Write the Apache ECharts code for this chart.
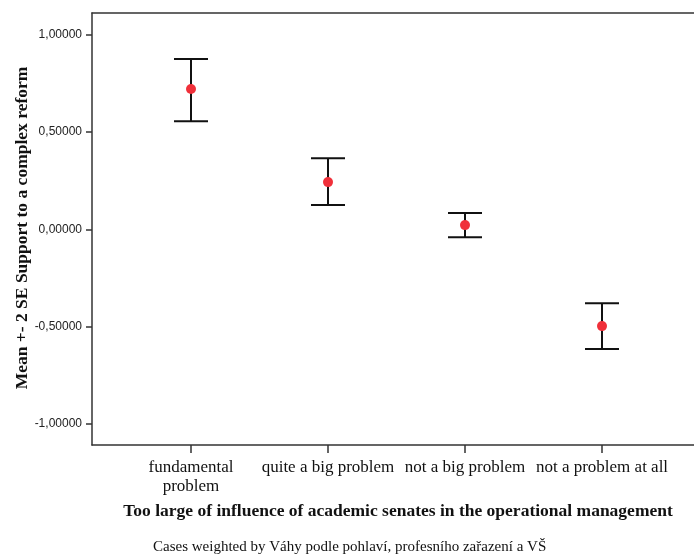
<!DOCTYPE html>
<html>
<head>
<meta charset="utf-8">
<script src="https://cdn.jsdelivr.net/npm/echarts@6/dist/echarts.min.js"></script>
<style>
  html, body { margin: 0; padding: 0; background: #fff; }
  #chart { width: 694px; height: 554px; }
</style>
</head>
<body>
<div id="chart"></div>
<script>
// Response categories on the horizontal axis
const categories = ['fundamental\nproblem', 'quite a big problem', 'not a big problem', 'not a problem at all'];
// Group means and the ±2 SE interval bounds
const means = [0.721, 0.243, 0.022, -0.497];
const upper = [0.876, 0.366, 0.084, -0.379];
const lower = [0.556, 0.125, -0.040, -0.615];
// Value-axis tick positions
const yTicks = [-1, -0.5, 0, 0.5, 1];

const yTitle = 'Mean +- 2 SE Support to a complex reform';
const xTitle = 'Too large of influence of academic senates in the operational management';
const footnote = 'Cases weighted by Váhy podle pohlaví, profesního zařazení a VŠ';

const chart = echarts.init(document.getElementById('chart'), null, { renderer: 'canvas' });

const catIdx = categories.map((_, i) => i);
const barData = catIdx.map(i => [i, lower[i], upper[i]]);
const meanData = catIdx.map(i => [i, means[i]]);

// SPSS-style number format with a decimal comma
function fmt(v) {
  return v.toFixed(5).replace('.', ',');
}

const X_MIN = -0.7226, X_MAX = 3.6715;
const frameLine = { color: '#333', width: 1.5 };

chart.setOption({
  animation: false,
  backgroundColor: '#ffffff',
  grid: { left: 92, top: 13, right: 0, height: 432 },
  xAxis: [
    {
      type: 'value',
      min: X_MIN, max: X_MAX,
      splitLine: { show: false },
      axisLine: { show: true, onZero: false, lineStyle: frameLine },
      axisTick: { show: true, length: 8, customValues: catIdx, lineStyle: frameLine },
      axisLabel: {
        customValues: catIdx,
        formatter: v => categories[Math.round(v)],
        margin: 13,
        color: '#111',
        fontFamily: 'Liberation Serif',
        fontSize: 17,
        lineHeight: 19
      }
    },
    {
      // top edge of the plot frame
      type: 'value',
      position: 'top',
      min: X_MIN, max: X_MAX,
      splitLine: { show: false },
      axisLine: { show: true, onZero: false, lineStyle: frameLine },
      axisTick: { show: false },
      axisLabel: { show: false }
    }
  ],
  yAxis: {
    type: 'value',
    min: -1.108, max: 1.112,
    splitLine: { show: false },
    axisLine: { show: true, onZero: false, lineStyle: frameLine },
    axisTick: { show: true, length: 6, customValues: yTicks, lineStyle: frameLine },
    axisLabel: {
      customValues: yTicks,
      formatter: fmt,
      margin: 10,
      color: '#222',
      fontFamily: 'Liberation Sans',
      fontSize: 12
    }
  },
  series: [
    {
      type: 'custom',
      data: barData,
      z: 2,
      renderItem: function (params, api) {
        const x = api.value(0);
        const lo = api.coord([x, api.value(1)]);
        const hi = api.coord([x, api.value(2)]);
        const half = 17;
        const style = { stroke: '#111', lineWidth: 2 };
        return {
          type: 'group',
          children: [
            { type: 'line', shape: { x1: lo[0], y1: lo[1], x2: hi[0], y2: hi[1] }, style },
            { type: 'line', shape: { x1: hi[0] - half, y1: hi[1], x2: hi[0] + half, y2: hi[1] }, style },
            { type: 'line', shape: { x1: lo[0] - half, y1: lo[1], x2: lo[0] + half, y2: lo[1] }, style }
          ]
        };
      }
    },
    {
      type: 'scatter',
      data: meanData,
      symbol: 'circle',
      symbolSize: 10,
      z: 3,
      itemStyle: { color: '#f0303a', opacity: 1 }
    }
  ],
  graphic: [
    {
      type: 'text',
      x: 22, y: 228,
      rotation: Math.PI / 2,
      style: {
        text: yTitle,
        fontFamily: 'Liberation Serif',
        fontWeight: 'bold',
        fontSize: 17.5,
        fill: '#111',
        align: 'center',
        verticalAlign: 'middle'
      }
    },
    {
      type: 'text',
      x: 398, y: 511,
      style: {
        text: xTitle,
        fontFamily: 'Liberation Serif',
        fontWeight: 'bold',
        fontSize: 17.5,
        fill: '#111',
        align: 'center',
        verticalAlign: 'middle'
      }
    },
    {
      type: 'text',
      x: 153, y: 547,
      style: {
        text: footnote,
        fontFamily: 'Liberation Serif',
        fontSize: 15,
        fill: '#111',
        align: 'left',
        verticalAlign: 'middle'
      }
    }
  ]
});
</script>
</body>
</html>
